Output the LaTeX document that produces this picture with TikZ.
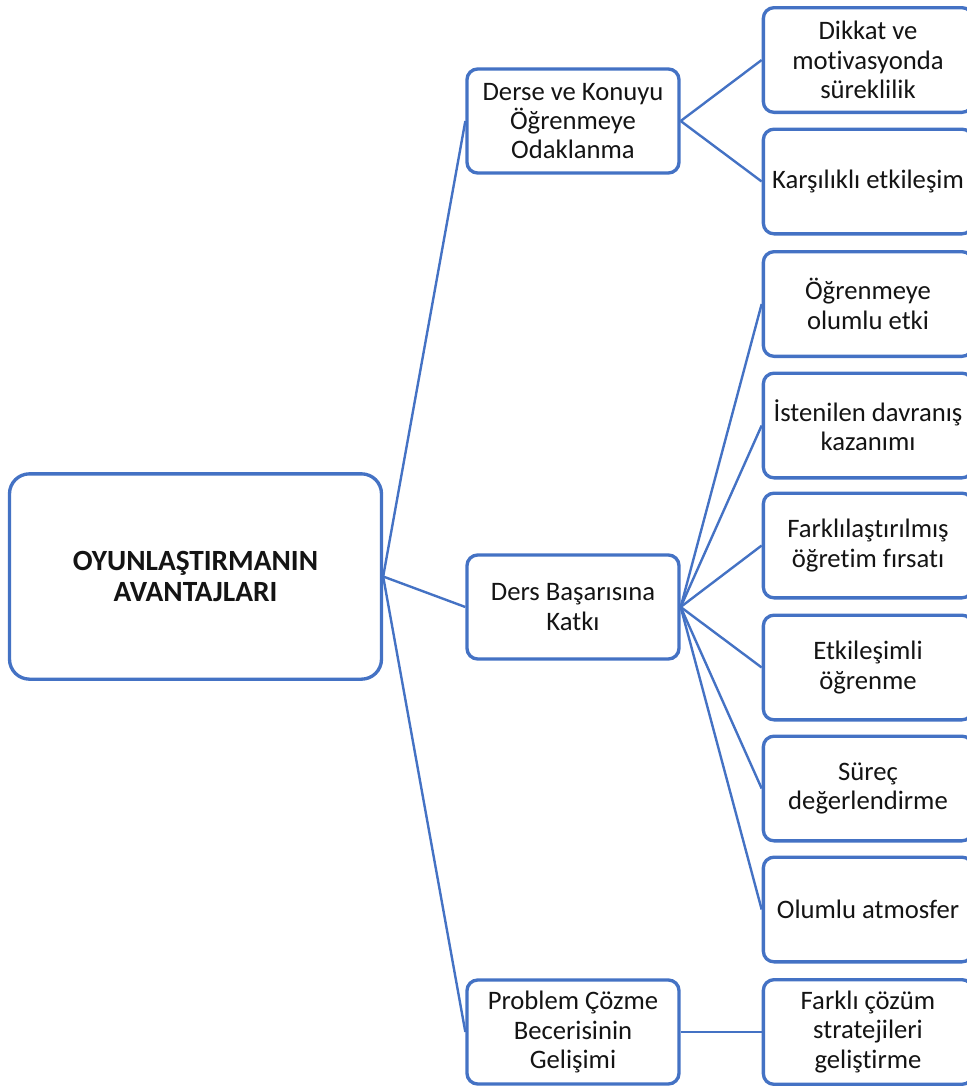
\documentclass[tikz,border=0pt]{standalone}
\usepackage{fontspec}
\setmainfont{Carlito}[RawFeature=-liga]
\definecolor{boxblue}{RGB}{68,114,196}
\definecolor{txt}{RGB}{20,20,20}
\begin{document}
\begin{tikzpicture}[x=0.75pt,y=-0.75pt,
  box/.style={draw=boxblue, line width=2.5pt, fill=white, align=center, text=txt,
    inner sep=0pt, font=\fontsize{20}{22}\selectfont},
  rootbox/.style={box, rounded corners=15pt, minimum width=279pt, minimum height=154pt,
    font=\bfseries\fontsize{22}{23.5}\selectfont},
  midbox/.style={box, rounded corners=8pt, minimum width=159pt, minimum height=78pt},
  leafbox/.style={box, rounded corners=8pt, minimum width=157pt, minimum height=78.5pt},
  link/.style={draw=boxblue, line width=1.8pt}]
\useasboundingbox (0,0) rectangle (967,1086);
% root
\node[rootbox] (root) at (195.5,576.5) {OYUNLAŞTIRMANIN\\AVANTAJLARI};
% second level
\node[midbox] (m1) at (573,121) {Derse ve Konuyu\\Öğrenmeye\\Odaklanma};
\node[midbox] (m2) at (573,607) {Ders Başarısına\\Katkı};
\node[midbox] (m3) at (573,1032) {Problem Çözme\\Becerisinin\\Gelişimi};
% leaves
\node[leafbox] (l1) at (868,60) {Dikkat ve\\motivasyonda\\süreklilik};
\node[leafbox] (l2) at (868,181.5) {Karşılıklı etkileşim};
\node[leafbox] (l3) at (868,304) {Öğrenmeye\\olumlu etki};
\node[leafbox] (l4) at (868,425.5) {İstenilen davranış\\kazanımı};
\node[leafbox] (l5) at (868,545.5) {Farklılaştırılmış\\öğretim fırsatı};
\node[leafbox] (l6) at (868,667.5) {Etkileşimli\\öğrenme};
\node[leafbox] (l7) at (868,788.5) {Süreç\\değerlendirme};
\node[leafbox] (l8) at (868,909.5) {Olumlu atmosfer};
\node[leafbox] (l9) at (868,1032) {Farklı çözüm\\stratejileri\\geliştirme};
% connectors
\path[link] (root.east) -- (m1.west);
\path[link] (root.east) -- (m2.west);
\path[link] (root.east) -- (m3.west);
\path[link] (m1.east) -- (l1.west);
\path[link] (m1.east) -- (l2.west);
\foreach \k in {3,...,8} { \path[link] (m2.east) -- (l\k.west); }
\path[link] (m3.east) -- (l9.west);
\end{tikzpicture}
\end{document}
